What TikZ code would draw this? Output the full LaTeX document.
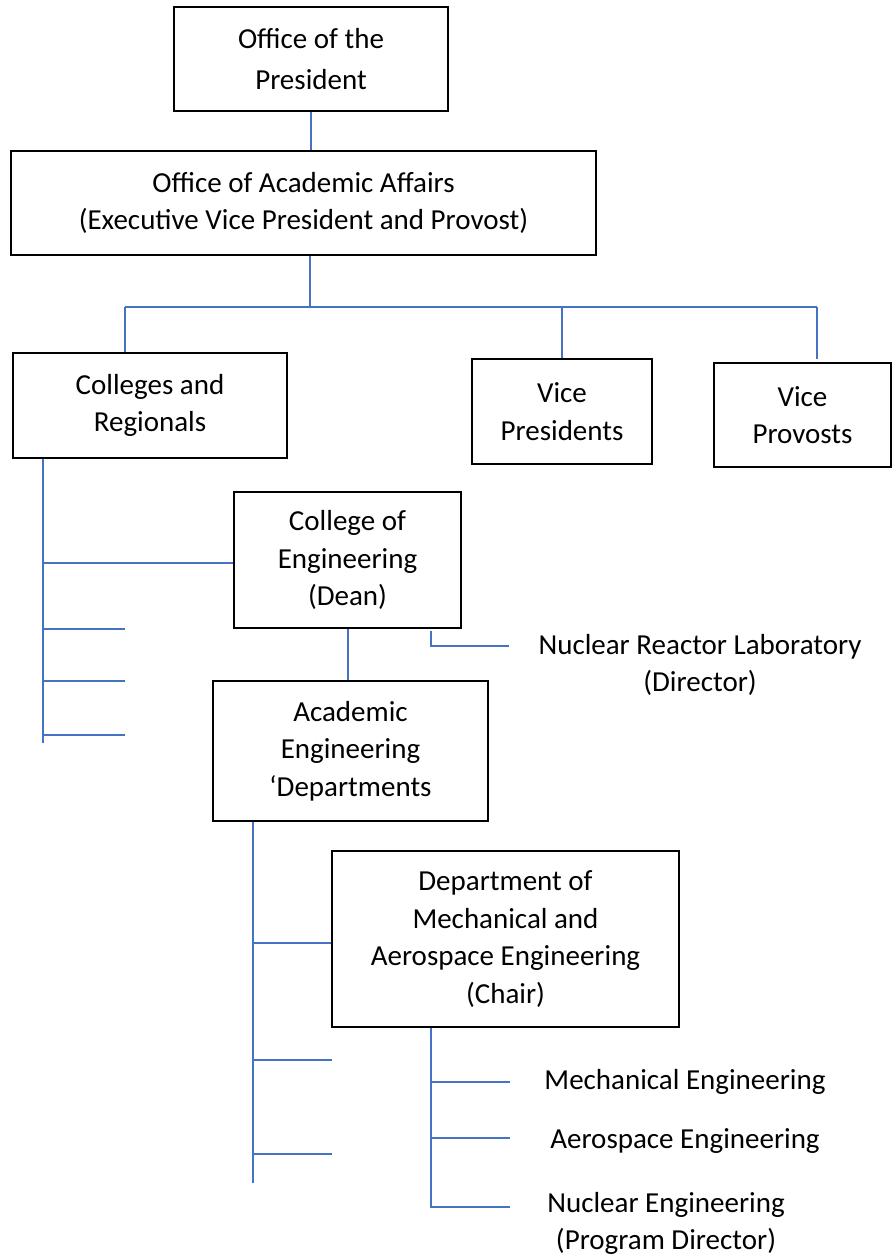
\documentclass[tikz,border=0pt]{standalone}
\usepackage{fontspec}
\setmainfont{Carlito}
\definecolor{linkblue}{HTML}{4472C4}
\newcommand\orgfont{\fontsize{29}{37.5}\selectfont}
\tikzset{
  orgbox/.style={draw=black, line width=1.1pt, inner sep=0pt, align=center, font=\orgfont},
  plaintext/.style={inner sep=0pt, align=center, font=\orgfont},
  link/.style={draw=linkblue, line width=1.6pt}
}
\begin{document}
\begin{tikzpicture}[x=1pt, y=-1pt]
\useasboundingbox[fill=white] (0,0) rectangle (893,1260);

% boxes
\node[orgbox, minimum width=274pt, minimum height=104pt] (pres) at (311,59) {Office of the\\[3pt]President};
\node[orgbox, minimum width=585pt, minimum height=104pt] (aa) at (303.5,203) {Office of Academic Affairs\\(Executive Vice President and Provost)};
\node[orgbox, minimum width=274pt, minimum height=105pt] (colleges) at (150,405.5) {Colleges and\\Regionals};
\node[orgbox, minimum width=180pt, minimum height=105pt] (vp) at (562,411.5) {Vice\\Presidents};
\node[orgbox, minimum width=177pt, minimum height=104pt] (vprov) at (802.5,415) {Vice\\Provosts};
\node[orgbox, minimum width=227pt, minimum height=136pt] (dean) at (347.5,560) {College of\\Engineering\\(Dean)};
\node[orgbox, minimum width=275pt, minimum height=140pt] (acad) at (350.5,751) {Academic\\Engineering\\‘Departments};
\node[orgbox, minimum width=347pt, minimum height=176pt] (dept) at (505.5,939) {Department of\\Mechanical and\\Aerospace Engineering\\(Chair)};

% free texts
\node[plaintext] (nrl) at (700,665) {Nuclear Reactor Laboratory\\(Director)};
\node[plaintext] (mech) at (685,1082) {Mechanical Engineering};
\node[plaintext] (aero) at (685,1141) {Aerospace Engineering};
\node[plaintext] (nuc) at (666,1223.5) {Nuclear Engineering\\(Program Director)};

% president -> academic affairs
\coordinate (pa) at (311,130);
\draw[link] (pa |- pres.south) -- (pa |- aa.north);

% academic affairs bus
\coordinate (busL) at (125,307);
\coordinate (busM) at (310,307);
\coordinate (busR) at (817,307);
\draw[link] (busM |- aa.south) -- (busM);
\draw[link] (busL) -- (busR);
\draw[link] (busL) -- (busL |- colleges.north);
\draw[link] (vp.north |- busL) -- (vp.north);
\coordinate (vprovtop) at (817,359);
\draw[link] (busR) -- (vprovtop);

% colleges branch
\coordinate (cv) at (43,743);
\coordinate (t1) at (125,629);
\coordinate (t2) at (125,681);
\coordinate (t3) at (125,735);
\coordinate (cdean) at (43,563);
\draw[link] (cv |- colleges.south) -- (cv);
\draw[link] (cdean) -- (cdean -| dean.west);
\draw[link] (cv |- t1) -- (t1);
\draw[link] (cv |- t2) -- (t2);
\draw[link] (cv |- t3) -- (t3);

% dean -> academic departments
\coordinate (da) at (348,650);
\draw[link] (da |- dean.south) -- (da |- acad.north);

% dean -> nuclear reactor lab
\coordinate (nrlstart) at (431,631);
\coordinate (nrlend) at (509,646);
\draw[link] (nrlstart) |- (nrlend);

% academic departments branch
\coordinate (av) at (253,1183);
\coordinate (d1) at (332,1060);
\coordinate (d2) at (332,1154);
\coordinate (adept) at (253,943);
\draw[link] (av |- acad.south) -- (av);
\draw[link] (adept) -- (adept -| dept.west);
\draw[link] (av |- d1) -- (d1);
\draw[link] (av |- d2) -- (d2);

% department branch
\coordinate (dv) at (431,1207);
\coordinate (m1) at (510,1082);
\coordinate (m2) at (510,1138);
\coordinate (m3) at (510,1207);
\draw[link] (dv |- dept.south) -- (dv) -- (m3);
\draw[link] (dv |- m1) -- (m1);
\draw[link] (dv |- m2) -- (m2);
\end{tikzpicture}
\end{document}
